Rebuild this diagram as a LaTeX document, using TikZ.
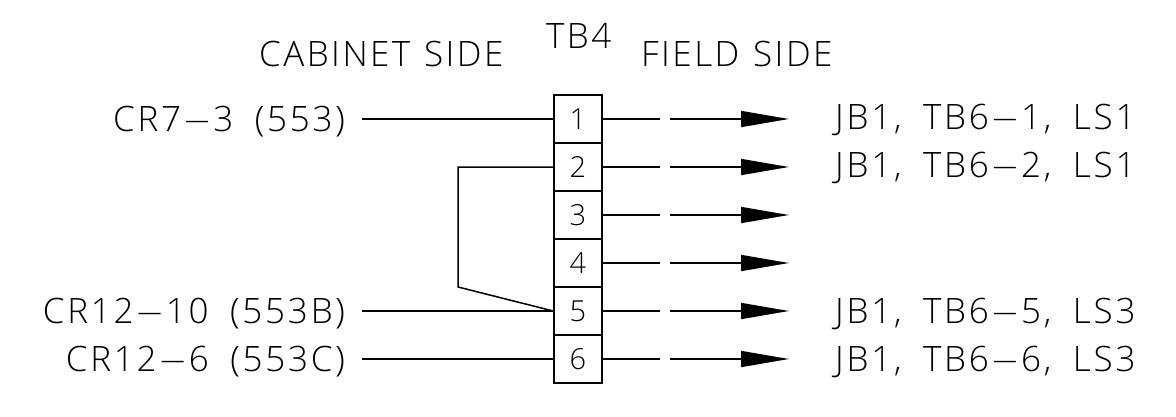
\documentclass[tikz,border=0pt]{standalone}
\usepackage{fontspec}
\setmainfont{Open Sans Light}
\newfontfamily\cadfont[LetterSpace=8,WordSpace=1.8]{Open Sans Light}
\newfontfamily\headfont[LetterSpace=7,WordSpace=1.2]{Open Sans Light}
\usetikzlibrary{arrows.meta}
\newcommand{\dsh}{\hspace{3pt}\scalebox{1.5}[1]{–}\hspace{3pt}}
\tikzset{
  x=1pt,y=-1pt,
  wire/.style={line width=1.5pt,black},
  feed/.style={wire,-{Triangle[length=48pt,width=16pt]}},
  cell/.style={draw,line width=1.5pt,minimum width=48pt,minimum height=48pt,inner sep=0pt,font=\fontsize{29}{29}\selectfont},
  head/.style={inner sep=0pt,anchor=base west,font=\headfont\fontsize{35}{35}\selectfont},
  lab/.style={anchor=base east,inner ysep=0pt,inner xsep=0pt,outer xsep=17pt,outer ysep=0pt,font=\cadfont\fontsize{35}{35}\selectfont},
  rlab/.style={anchor=base west,inner sep=0pt,font=\cadfont\fontsize{35}{35}\selectfont},
}
\begin{document}
\begin{tikzpicture}
\useasboundingbox (0,0) rectangle (1176,416);
\foreach \i/\y in {1/119,2/167,3/215,4/263,5/311,6/359}{
  \node[cell] (c\i) at (578,\y) {\i};
  \coordinate (g\i) at (660,\y);
  \coordinate (h\i) at (670,\y);
  \coordinate (a\i) at (789,\y);
  \draw[wire] (c\i.east) -- (g\i);
  \draw[feed] (h\i) -- (a\i);
}
\node[head] (cab) at (259,66) {CABINET SIDE};
\node[head] (fld) at (641,66) {FIELD SIDE};
\node[head] (tb) at (546,48) {TB4};
\node[lab] (l1) at (362,131) {CR7\dsh 3 (553)};
\node[lab] (l5) at (362,323) {CR12\dsh 10 (553B)};
\node[lab] (l6) at (362,371) {CR12\dsh 6 (553C)};
\draw[wire] (l1.east |- c1.west) -- (c1.west);
\draw[wire] (l5.east |- c5.west) -- (c5.west);
\draw[wire] (l6.east |- c6.west) -- (c6.west);
\coordinate (j1) at (458,167);
\coordinate (j2) at (458,287);
\draw[wire,line join=miter] (c2.west) -- (j1) -- (j2) -- (c5.west);
\node[rlab] (r1) at (835,129) {JB1, TB6\dsh 1, LS1};
\node[rlab] (r2) at (835,177) {JB1, TB6\dsh 2, LS1};
\node[rlab] (r5) at (835,323) {JB1, TB6\dsh 5, LS3};
\node[rlab] (r6) at (835,371) {JB1, TB6\dsh 6, LS3};
\end{tikzpicture}
\end{document}
